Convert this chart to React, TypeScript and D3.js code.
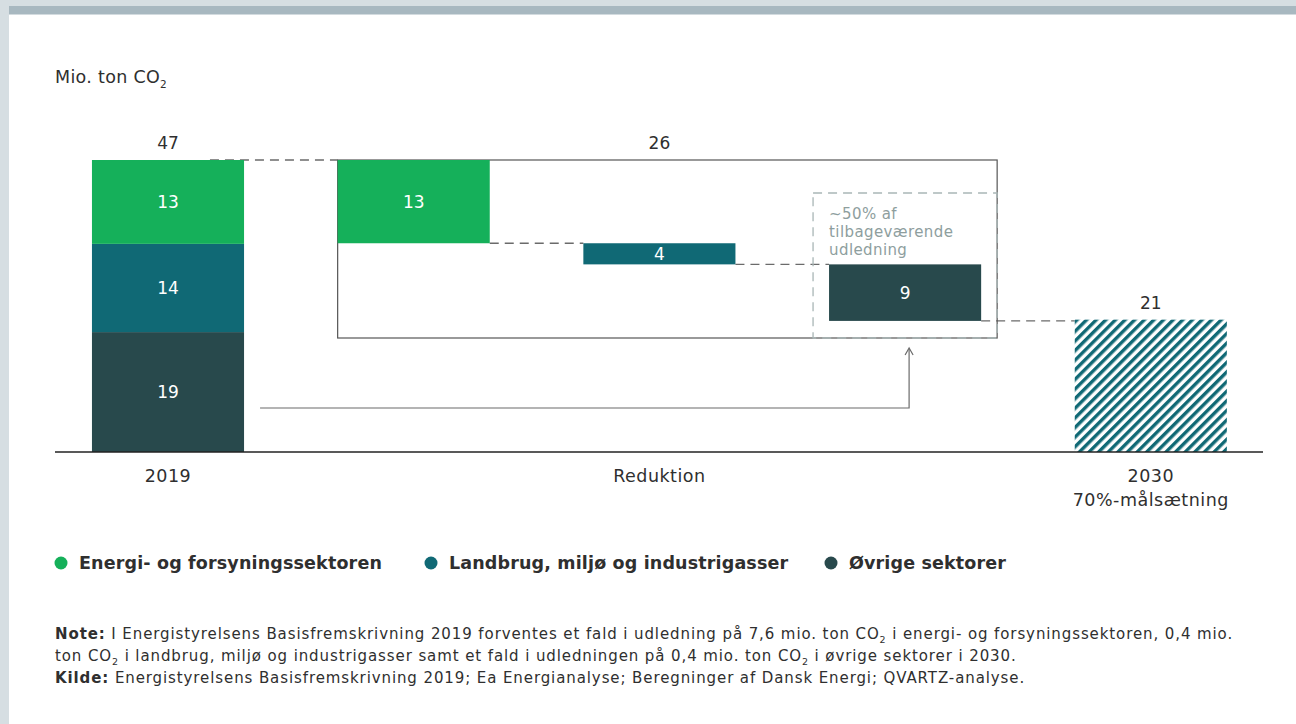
import React from "react";
import * as d3 from "d3";

// ---------- data ----------
const sectors = ["Energi- og forsyningssektoren", "Landbrug, miljø og industrigasser", "Øvrige sektorer"];
const sectorColors = ["#15b05a", "#106975", "#28494c"];
// 2019 emissions by sector (estimated unrounded values) and printed labels
const values2019 = [13.5, 14.2, 19.3];
const labels2019 = ["13", "14", "19"];
const total2019Label = "47";
// reductions to 2030 by sector
const reductions = [13.4, 3.4, 9.1];
const reductionLabels = ["13", "4", "9"];
const reductionTotalLabel = "26";
const value2030 = 21.3;
const label2030 = "21";
const columns = ["2019", "red0", "red1", "red2", "2030"];
const annotationLines = ["~50% af", "tilbageværende", "udledning"];

const FONT = "'DejaVu Sans', 'Open Sans', sans-serif";
const TEXT = "#2f2f2f";

export default function App() {
  const W = 1296, H = 724;
  const baseY = 452;
  const y = d3.scaleLinear().domain([0, 47]).range([baseY, 160]);
  const x = d3.scaleBand().domain(columns).range([45.15, 1273.65]).paddingInner(0.381).paddingOuter(0.1905);
  const bw = x.bandwidth();

  const stack2019: { y0: number; y1: number; i: number }[] = [];
  {
    let acc = 0;
    [2, 1, 0].forEach((i) => {
      stack2019.push({ y0: acc, y1: acc + values2019[i], i });
      acc += values2019[i];
    });
  }
  const total = d3.sum(values2019);
  const waterfall: { top: number; bottom: number; i: number; key: string }[] = [];
  {
    let level = total;
    reductions.forEach((r, i) => {
      waterfall.push({ top: level, bottom: level - r, i, key: columns[i + 1] });
      level -= r;
    });
  }

  const x2019 = x("2019")!;
  const x2030 = x("2030")!;
  const boxX0 = x("red0")!;
  const boxX1 = x("red2")! + bw + 16;
  const boxY0 = y(total);
  const boxY1 = 338;
  const dashBoxX0 = x("red2")! - 16;
  const dashBoxY0 = 193;

  const c = (k: string) => x(k)! + bw / 2;

  return (
    <div style={{ position: "absolute", left: 0, top: 0 }}>
      <svg width={W} height={H} style={{ display: "block" }} fontFamily={FONT}>
        <defs>
          <pattern id="hatch" patternUnits="userSpaceOnUse" width={6.8} height={6.8} patternTransform="rotate(45)">
            <rect x={0} y={0} width={6.8} height={6.8} fill="#fff" />
            <rect x={0} y={0} width={3.4} height={6.8} fill="#106975" />
          </pattern>
        </defs>
        <rect x={0} y={0} width={W} height={H} fill="#fff" />
        <rect x={0} y={0} width={W} height={6} fill="#d6dee2" />
        <rect x={0} y={0} width={9} height={H} fill="#d6dee2" />
        <rect x={9} y={6} width={W - 9} height={8.5} fill="#a8b8c0" />

        <text x={55} y={83} fontSize={17.5} fill={TEXT} letterSpacing={0.3}>
          Mio. ton CO<tspan fontSize={10.5} dy={5}>2</tspan>
        </text>

        <g stroke="#6b6b6b" strokeWidth={1.3} strokeDasharray="9,6" fill="none">
          <line x1={x2019 + 118} x2={boxX0} y1={y(total)} y2={y(total)} />
          <line x1={x("red0")! + bw} x2={x("red1")!} y1={y(waterfall[0].bottom)} y2={y(waterfall[0].bottom)} />
          <line x1={x("red1")! + bw} x2={x("red2")!} y1={y(waterfall[1].bottom)} y2={y(waterfall[1].bottom)} />
          <line x1={x("red2")! + bw} x2={x2030} y1={y(waterfall[2].bottom)} y2={y(waterfall[2].bottom)} />
        </g>

        <rect x={boxX0} y={boxY0} width={boxX1 - boxX0} height={boxY1 - boxY0} fill="none" stroke="#555" strokeWidth={1.2} />
        <rect x={dashBoxX0} y={dashBoxY0} width={boxX1 - dashBoxX0} height={boxY1 - dashBoxY0} fill="none" stroke="#a9b6b6" strokeWidth={1.3} strokeDasharray="9,6" />
        <g fontSize={15} fill="#8e9e9e" letterSpacing={0.4}>
          {annotationLines.map((t, i) => (
            <text key={i} x={x("red2")!} y={dashBoxY0 + 26 + i * 18}>{t}</text>
          ))}
        </g>

        {stack2019.map((s) => (
          <g key={s.i}>
            <rect x={x2019} width={bw} y={y(s.y1)} height={y(s.y0) - y(s.y1)} fill={sectorColors[s.i]} />
            <text x={x2019 + bw / 2} y={(y(s.y0) + y(s.y1)) / 2} dy="0.35em" textAnchor="middle" fill="#fff" fontSize={17}>
              {labels2019[s.i]}
            </text>
          </g>
        ))}
        <text x={c("2019")} y={y(total) - 11} textAnchor="middle" fontSize={17} fill={TEXT}>{total2019Label}</text>

        {waterfall.map((w) => (
          <g key={w.key}>
            <rect x={x(w.key)!} width={bw} y={y(w.top)} height={y(w.bottom) - y(w.top)} fill={sectorColors[w.i]} />
            <text x={c(w.key)} y={(y(w.top) + y(w.bottom)) / 2} dy="0.35em" textAnchor="middle" fill="#fff" fontSize={17}>
              {reductionLabels[w.i]}
            </text>
          </g>
        ))}
        <text x={c("red1")} y={y(total) - 11} textAnchor="middle" fontSize={17} fill={TEXT}>{reductionTotalLabel}</text>

        <rect x={x2030} width={bw} y={y(value2030)} height={baseY - y(value2030)} fill="url(#hatch)" />
        <text x={c("2030")} y={y(value2030) - 11} textAnchor="middle" fontSize={17} fill={TEXT}>{label2030}</text>

        <path d={`M${x2019 + bw + 16},408 H${c("red2") + 4} V${boxY1 + 11}`} fill="none" stroke="#6b6b6b" strokeWidth={1.2} />
        <path d={`M${c("red2") + 0},${boxY1 + 17} L${c("red2") + 4},${boxY1 + 10} L${c("red2") + 8},${boxY1 + 17}`} fill="none" stroke="#6b6b6b" strokeWidth={1.2} />

        <line x1={55} x2={1263} y1={baseY} y2={baseY} stroke="#222" strokeWidth={1.3} />

        <g fontSize={17.5} fill={TEXT} textAnchor="middle" letterSpacing={0.5}>
          <text x={c("2019")} y={482}>2019</text>
          <text x={c("red1")} y={482}>Reduktion</text>
          <text x={c("2030")} y={482}>2030</text>
          <text x={c("2030")} y={506}>70%-målsætning</text>
        </g>

        {sectors.map((s, i) => {
          const lx = [61, 431, 831][i];
          return (
            <g key={s}>
              <circle cx={lx} cy={563} r={6.5} fill={sectorColors[i]} />
              <text x={lx + 18} y={569} fontSize={17.5} fontWeight={700} fill={TEXT} letterSpacing={0.15}>{s}</text>
            </g>
          );
        })}

        <g fontSize={15} fill={TEXT} letterSpacing={0.9}>
          <text x={55} y={639}>
            <tspan fontWeight={700}>Note:</tspan> I Energistyrelsens Basisfremskrivning 2019 forventes et fald i udledning på 7,6 mio. ton CO<tspan fontSize={9.5} dy={4}>2</tspan><tspan dy={-4}> i energi- og forsyningssektoren, 0,4 mio.</tspan>
          </text>
          <text x={55} y={661}>
            ton CO<tspan fontSize={9.5} dy={4}>2</tspan><tspan dy={-4}> i landbrug, miljø og industrigasser samt et fald i udledningen på 0,4 mio. ton CO</tspan><tspan fontSize={9.5} dy={4}>2</tspan><tspan dy={-4}> i øvrige sektorer i 2030.</tspan>
          </text>
          <text x={55} y={683}>
            <tspan fontWeight={700}>Kilde:</tspan> Energistyrelsens Basisfremskrivning 2019; Ea Energianalyse; Beregninger af Dansk Energi; QVARTZ-analyse.
          </text>
        </g>
      </svg>
    </div>
  );
}
